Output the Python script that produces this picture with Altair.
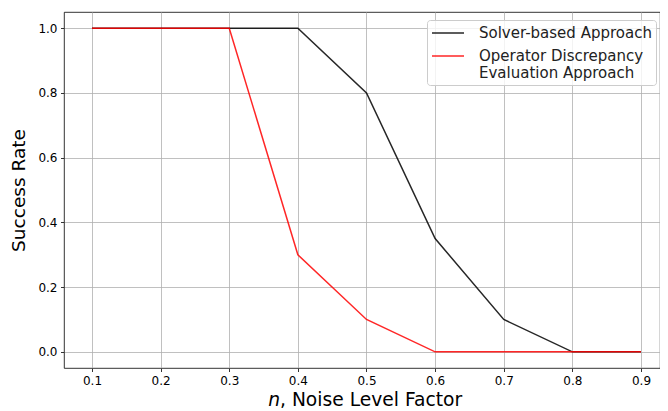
import altair as alt
import pandas as pd

noise = [0.1, 0.2, 0.3, 0.4, 0.5, 0.6, 0.7, 0.8, 0.9]
solver = [1.0, 1.0, 1.0, 1.0, 0.8, 0.35, 0.1, 0.0, 0.0]
ode = [1.0, 1.0, 1.0, 0.3, 0.1, 0.0, 0.0, 0.0, 0.0]
names = ["Solver-based Approach", "Operator Discrepancy|\u00a0Evaluation Approach"]
colors = ["#000000", "#ff0000"]
x_ticks = [0.1, 0.2, 0.3, 0.4, 0.5, 0.6, 0.7, 0.8, 0.9]
y_ticks = [0.0, 0.2, 0.4, 0.6, 0.8, 1.0]

rows = []
for i, v in enumerate(noise):
    rows.append({"n": v, "rate": solver[i], "method": names[0], "order": 0})
for i, v in enumerate(noise):
    rows.append({"n": v, "rate": ode[i], "method": names[1], "order": 1})
df = pd.DataFrame(rows)

FONT = "DejaVu Sans"

lines = alt.Chart(df).mark_line(strokeWidth=1.5, opacity=0.85).encode(
    x=alt.X("n:Q", scale=alt.Scale(domain=[0.0592, 0.9277], nice=False, zero=False),
            axis=alt.Axis(values=x_ticks, format=".1f", title=None)),
    y=alt.Y("rate:Q", scale=alt.Scale(domain=[-0.05, 1.05], nice=False, zero=False),
            axis=alt.Axis(values=y_ticks, format=".1f", title="Success Rate",
                          titleFontSize=18.5, titleFontWeight="normal", titlePadding=9)),
    color=alt.Color("method:N", scale=alt.Scale(domain=names, range=colors),
                    sort=names,
                    legend=alt.Legend(title=None, orient="none", legendX=363, legendY=8,
                                      labelExpr="split(datum.label, '|')",
                                      symbolType="M-1,0H3", symbolSize=256,
                                      symbolStrokeWidth=1.5,
                                      labelFontSize=15, labelFont=FONT, labelColor="#222",
                                      labelOffset=30, rowPadding=6,
                                      padding=4, strokeColor="#cccccc",
                                      fillColor="rgba(255,255,255,0.8)",
                                      cornerRadius=3, labelLimit=300)),
    order="order:Q",
)

title_df = pd.DataFrame({"a": [0]})
t_n = alt.Chart(title_df).mark_text(text="n", font=FONT, fontSize=18.7, fontStyle="italic",
                                   align="right", baseline="alphabetic", color="#000").encode(
    x=alt.value(216), y=alt.value(394))
t_rest = alt.Chart(title_df).mark_text(text=", Noise Level Factor", font=FONT, fontSize=18.7,
                                      align="left", baseline="alphabetic", color="#000").encode(
    x=alt.value(216), y=alt.value(394))

chart = alt.layer(lines, t_n, t_rest).properties(
    width=596, height=356,
    autosize=alt.AutoSizeParams(type="none"),
    padding={"left": 56, "top": 4, "right": 0, "bottom": 43},
).configure_axis(
    labelFont=FONT, titleFont=FONT, labelFontSize=12, labelColor="#000", titleColor="#000",
    gridColor="#b0b0b0", gridWidth=0.8, domain=False,
    tickColor="#000", tickWidth=0.8, tickSize=3.5, labelPadding=3.5,
).configure_view(stroke="#000", strokeWidth=0.8)

chart.save("out.html", embed_options={"renderer": "svg", "actions": False})
